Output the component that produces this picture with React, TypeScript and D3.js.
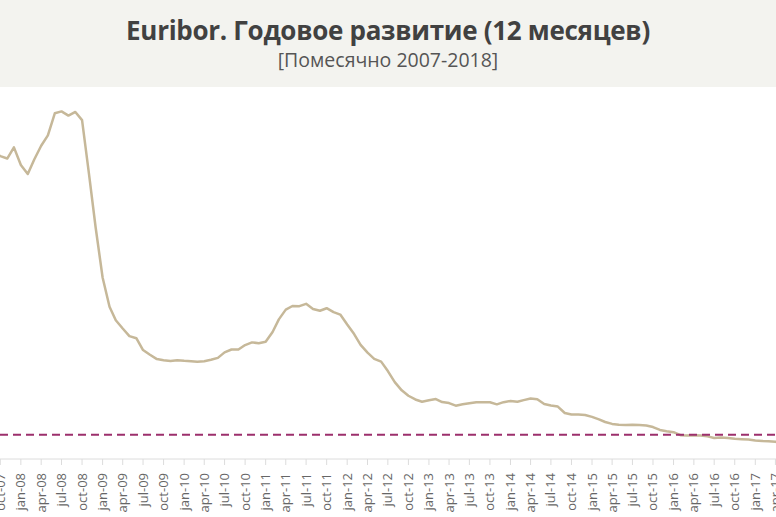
import React from "react";
import * as d3 from "d3";

const title = "Euribor. Годовое развитие (12 месяцев)";
const subtitle = "[Помесячно 2007-2018]";

const startMonth = "2007-01";
const v2007 = [4.064, 4.094, 4.107, 4.253, 4.373, 4.505, 4.564, 4.666, 4.725, 4.647, 4.607, 4.793];
const v2008 = [4.498, 4.349, 4.59, 4.82, 4.994, 5.361, 5.393, 5.323, 5.384, 5.248, 4.35, 3.452];
const v2009 = [2.622, 2.135, 1.909, 1.771, 1.644, 1.61, 1.412, 1.334, 1.261, 1.243, 1.231, 1.242];
const v2010 = [1.232, 1.225, 1.215, 1.225, 1.249, 1.281, 1.373, 1.421, 1.42, 1.495, 1.54, 1.526];
const v2011 = [1.55, 1.714, 1.924, 2.086, 2.147, 2.144, 2.183, 2.097, 2.067, 2.11, 2.044, 2.004];
const v2012 = [1.837, 1.678, 1.499, 1.368, 1.266, 1.219, 1.061, 0.877, 0.74, 0.65, 0.588, 0.549];
const v2013 = [0.575, 0.594, 0.545, 0.528, 0.484, 0.507, 0.525, 0.542, 0.543, 0.541, 0.506, 0.543];
const v2014 = [0.562, 0.549, 0.577, 0.604, 0.592, 0.513, 0.488, 0.469, 0.362, 0.338, 0.335, 0.329];
const v2015 = [0.298, 0.255, 0.212, 0.18, 0.165, 0.163, 0.167, 0.161, 0.154, 0.128, 0.079, 0.059];
const v2016 = [0.042, -0.008, -0.012, -0.01, -0.013, -0.028, -0.056, -0.048, -0.057, -0.069, -0.074, -0.08];
const v2017 = [-0.095, -0.106, -0.11, -0.119, -0.127, -0.149, -0.154, -0.156, -0.168, -0.18, -0.189, -0.19];

const monthAbbr = ["jan", "feb", "mar", "apr", "may", "jun", "jul", "aug", "sep", "oct", "nov", "dec"];
const referenceValue = 0;

const values = [...v2007, ...v2008, ...v2009, ...v2010, ...v2011, ...v2012, ...v2013, ...v2014, ...v2015, ...v2016, ...v2017];
const parse = d3.timeParse("%Y-%m");
const start = parse(startMonth)!;
const data = values.map((v, i) => ({ date: d3.timeMonth.offset(start, i), value: v }));

const W = 776;
const H = 517;

export default function App() {
  const x = d3
    .scaleTime()
    .domain([new Date(2007, 9, 1), new Date(2017, 3, 1)])
    .range([0.3, 775.4]);
  const y = d3.scaleLinear().domain([0, 5.393]).range([434.7, 111.4]);
  const line = d3
    .line<{ date: Date; value: number }>()
    .x((d) => x(d.date))
    .y((d) => y(d.value))
    .curve(d3.curveLinear);

  const ticks = x.ticks(d3.timeMonth.every(3)!).filter((d) => x(d) >= -5 && x(d) <= W + 10);
  const fmt = (d: Date) => `${monthAbbr[d.getMonth()]}-${d3.timeFormat("%y")(d)}`;
  const axisY = 459;
  const font = "'Open Sans', 'Noto Sans', sans-serif";

  return (
    <svg
      width={W}
      height={H}
      style={{ position: "fixed", left: 0, top: 0, background: "#ffffff" }}
    >
      <rect x={0} y={0} width={W} height={87} fill="#f3f3ef" />
      <text
        x={W / 2}
        y={40}
        textAnchor="middle"
        fontFamily={font}
        fontWeight={700}
        fontSize={26}
        fill="#414141"
        letterSpacing={-0.3}
      >
        {title}
      </text>
      <text x={W / 2} y={67} textAnchor="middle" fontFamily={font} fontWeight={400} fontSize={19.5} fill="#555555">
        {subtitle}
      </text>

      <line x1={0} x2={W} y1={axisY} y2={axisY} stroke="#dcdcdc" strokeWidth={1} />
      {ticks.map((d, i) => (
        <g key={i} transform={`translate(${x(d)},0)`}>
          <line y1={axisY} y2={axisY + 6} stroke="#dcdcdc" strokeWidth={1} />
          <text
            transform={`translate(4.5,${axisY + 14}) rotate(-90)`}
            textAnchor="end"
            fontFamily={font}
            fontSize={13}
            fill="#666666"
          >
            {fmt(d)}
          </text>
        </g>
      ))}

      <path d={line(data) ?? ""} fill="none" stroke="#c6b899" strokeWidth={2.5} strokeLinejoin="round" />
      <line
        x1={0}
        x2={W}
        y1={y(referenceValue)}
        y2={y(referenceValue)}
        stroke="#9c2f6c"
        strokeWidth={2}
        strokeDasharray="8,5"
      />
    </svg>
  );
}
